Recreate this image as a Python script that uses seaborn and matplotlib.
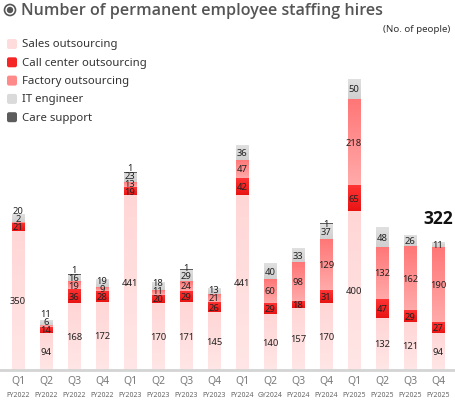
import numpy as np
import pandas as pd
import matplotlib
matplotlib.use("Agg")
import matplotlib.pyplot as plt
import seaborn as sns
from matplotlib.colors import to_rgb
from matplotlib.patches import FancyBboxPatch, Circle

# Data
quarters = ["Q1", "Q2", "Q3", "Q4"] * 4
fiscal = (["FY2022"] * 4 + ["FY2023"] * 4
          + ["FY2024", "GY2024", "FY2024", "FY2024"] + ["FY2025"] * 4)
sales = [350, 94, 168, 172, 441, 170, 171, 145, 441, 140, 157, 170, 400, 132, 121, 94]
call_center = [21, 14, 36, 28, 19, 20, 29, 26, 42, 29, 18, 31, 65, 47, 29, 27]
factory = [2, 6, 19, 9, 13, 11, 24, 21, 47, 60, 98, 129, 218, 132, 162, 190]
it_engineer = [20, 11, 16, 19, 23, 18, 29, 13, 36, 40, 33, 37, 50, 48, 26, 11]
care_support = [0, 0, 1, 0, 1, 0, 1, 0, 0, 0, 0, 1, 0, 0, 0, 0]

series_names = ["Sales outsourcing", "Call center outsourcing", "Factory outsourcing",
                "IT engineer", "Care support"]
colors = ["#ffdcdc", "#f42626", "#ff8a8a", "#dadada", "#5c5c5c"]
# (top, bottom) shades for the gradient fill of each segment
shades = [("#ffd6d6", "#ffe6e6"), ("#ff3434", "#e81414"), ("#ff7676", "#ffaaaa"),
          ("#e0e0e0", "#d0d0d0"), ("#777777", "#444444")]

sns.set_theme(style="white")
plt.rcParams["font.family"] = ["Noto Sans", "DejaVu Sans"]

W, H = 455, 402
fig = plt.figure(figsize=(W / 100, H / 100), dpi=100)

# axes placement: baseline at y=371 px, scale ~0.397 px per person
base_px = 371
top_px = 40
scale = 0.397
ax = fig.add_axes([0, (H - base_px) / H, 1, (base_px - top_px) / H])

df = pd.DataFrame({
    "idx": range(len(sales)),
    "Sales outsourcing": sales,
    "Call center outsourcing": call_center,
    "Factory outsourcing": factory,
    "IT engineer": it_engineer,
    "Care support": care_support,
})
cum = df[series_names].cumsum(axis=1)

# stacked bars: draw cumulative totals from the top layer down
for name, col in reversed(list(zip(series_names, colors))):
    sns.barplot(x=df["idx"], y=cum[name], color=col, width=0.43,
                saturation=1, ax=ax, native_scale=True, linewidth=0)

ax.set_xlim(-0.643, 15.607)
ax.set_ylim(0, (base_px - top_px) / scale)

# vertical gradient over each visible segment
bar_x0 = {}
for p in ax.patches:
    bar_x0[round(p.get_x() + p.get_width() / 2)] = (p.get_x(), p.get_x() + p.get_width())
for i in range(len(sales)):
    x0, x1 = bar_x0[i]
    bottom = 0
    for name, (ctop, cbot) in zip(series_names, shades):
        v = df.loc[i, name]
        if v > 0:
            t = np.linspace(0, 1, 64)[:, None]
            grad = (1 - t) * np.array(to_rgb(ctop)) + t * np.array(to_rgb(cbot))
            ax.imshow(grad[:, None, :].repeat(2, axis=1), extent=(x0, x1, bottom, bottom + v),
                      aspect="auto", interpolation="bilinear", zorder=1.5)
        bottom += v
ax.set_xlim(-0.643, 15.607)
ax.set_ylim(0, (base_px - top_px) / scale)

for s in ["top", "left", "right"]:
    ax.spines[s].set_visible(False)
ax.spines["bottom"].set_color("#d4d4d4")
ax.spines["bottom"].set_linewidth(2)
ax.spines["bottom"].set_zorder(2)
ax.set_xlabel("")
ax.set_ylabel("")
ax.set_yticks([])
ax.set_xticks(range(len(sales)))
ax.set_xticklabels([])
ax.tick_params(axis="x", length=0)

# x labels (quarter + fiscal year)
for i, (q, fy) in enumerate(zip(quarters, fiscal)):
    ax.annotate(q, xy=(i, 0), xycoords=("data", "axes fraction"),
                xytext=(0, -11), textcoords="offset pixels",
                ha="center", va="center", fontsize=7.5, color="#7a7a7a")
    ax.annotate(fy, xy=(i, 0), xycoords=("data", "axes fraction"),
                xytext=(0, -25), textcoords="offset pixels",
                ha="center", va="center", fontsize=5, color="#666666")

# value labels, pushed upward when segments are too thin
gap = 8.0 / scale
for i in range(len(sales)):
    prev = -1e9
    bottom = 0
    for name in series_names:
        v = df.loc[i, name]
        if v > 0:
            y = max(bottom + v / 2, prev + gap)
            ax.text(i, y, str(v), ha="center", va="center",
                    fontsize=6.8, color="#222222", zorder=3)
            prev = y
        bottom += v

# total on the latest quarter
last = len(sales) - 1
total = cum.loc[last, series_names[-1]]
ax.annotate(str(total), xy=(last, total), xytext=(0, 24), textcoords="offset pixels",
            ha="center", va="center", fontsize=12.5, fontweight="bold",
            family=["Open Sans", "DejaVu Sans"], color="#111111")


def px(x, y):
    return (x / 100, (H - y) / 100)


# title with circled-dot icon
fig.add_artist(Circle(px(10, 11), 0.055, transform=fig.dpi_scale_trans,
                      fill=False, edgecolor="#555555", linewidth=1.2))
fig.add_artist(Circle(px(10, 11), 0.025, transform=fig.dpi_scale_trans,
                      color="#555555"))
fig.text(21 / W, 1 - 11 / H, "Number of permanent employee staffing hires",
         ha="left", va="center", fontsize=11.6, fontweight="semibold",
         family=["Open Sans", "DejaVu Sans"], color="#555555")
fig.text(450 / W, 1 - 29 / H, "(No. of people)", ha="right", va="center",
         fontsize=7, color="#333333")

# legend
for k, (name, col) in enumerate(zip(series_names, colors)):
    yc = 45 + 18.3 * k
    fig.add_artist(FancyBboxPatch(px(7, yc + 5), 0.10, 0.10,
                                  boxstyle="round,pad=0,rounding_size=0.02",
                                  transform=fig.dpi_scale_trans,
                                  facecolor=col, edgecolor="none"))
    fig.text(22 / W, 1 - yc / H, name, ha="left", va="center",
             fontsize=8.2, color="#333333")

fig.savefig("out.png", dpi=100)
